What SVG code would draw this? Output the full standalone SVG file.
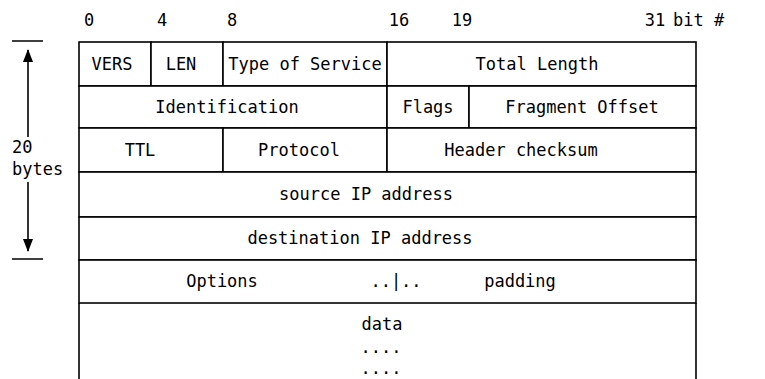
<svg xmlns="http://www.w3.org/2000/svg" width="765" height="379" viewBox="0 0 765 379">
<style>
text { font-family: "DejaVu Sans Mono", "Liberation Mono", monospace; font-size: 17px; fill: #000; text-anchor: middle; }
.cell { fill: #fff; stroke: #000; stroke-width: 1.6; }
.ln { stroke: #000; stroke-width: 1.6; fill: none; }
.st { text-anchor: start; }
</style>
<defs>
<marker id="ah" viewBox="0 0 13 10" refX="12" refY="5" markerWidth="13" markerHeight="10" markerUnits="userSpaceOnUse" orient="auto">
<path d="M0,0 L13,5 L0,10 Z" fill="#000"/>
</marker>
</defs>
<rect width="765" height="379" fill="#fff"/>
<g id="bit-labels">
<text x="89" y="26">0</text>
<text x="162" y="26">4</text>
<text x="232" y="26">8</text>
<text x="399" y="26">16</text>
<text x="462" y="26">19</text>
<text x="655" y="26">31</text>
<text x="673" y="26" class="st">bit #</text>
</g>
<g id="vers"><rect class="cell" x="79" y="42" width="72" height="44"/><text x="112" y="70">VERS</text></g>
<g id="len"><rect class="cell" x="151" y="42" width="72" height="44"/><text x="181" y="70">LEN</text></g>
<g id="tos"><rect class="cell" x="223" y="42" width="164" height="44"/><text x="305" y="70">Type of Service</text></g>
<g id="total-length"><rect class="cell" x="387" y="42" width="309" height="44"/><text x="537" y="70">Total Length</text></g>
<g id="identification"><rect class="cell" x="79" y="86" width="308" height="42"/><text x="227" y="113">Identification</text></g>
<g id="flags"><rect class="cell" x="387" y="86" width="82" height="42"/><text x="428" y="113">Flags</text></g>
<g id="fragment-offset"><rect class="cell" x="469" y="86" width="227" height="42"/><text x="582" y="113">Fragment Offset</text></g>
<g id="ttl"><rect class="cell" x="79" y="128" width="144" height="44"/><text x="140" y="156">TTL</text></g>
<g id="protocol"><rect class="cell" x="223" y="128" width="164" height="44"/><text x="299" y="156">Protocol</text></g>
<g id="header-checksum"><rect class="cell" x="387" y="128" width="309" height="44"/><text x="521" y="156">Header checksum</text></g>
<g id="source"><rect class="cell" x="79" y="172" width="617" height="45"/><text x="366" y="200">source IP address</text></g>
<g id="destination"><rect class="cell" x="79" y="217" width="617" height="43"/><text x="360" y="244">destination IP address</text></g>
<g id="options"><rect class="cell" x="79" y="260" width="617" height="43"/><text x="222" y="287">Options</text><text x="396" y="287">..|..</text><text x="520" y="287">padding</text></g>
<g id="data"><path class="ln" d="M79,303 V380 M696,303 V380"/><text x="382" y="330">data</text><text x="381" y="353">....</text><text x="381" y="374">....</text></g>
<g id="size-label"><text class="st"><tspan x="12" y="153">20</tspan><tspan x="12" y="175">bytes</tspan></text></g>
<g id="connectors">
<path class="ln" d="M12,41 H43 M12,259 H43"/>
<path class="ln" d="M28,137 V50" marker-end="url(#ah)"/>
<path class="ln" d="M28,182 V251" marker-end="url(#ah)"/>
</g>
</svg>
